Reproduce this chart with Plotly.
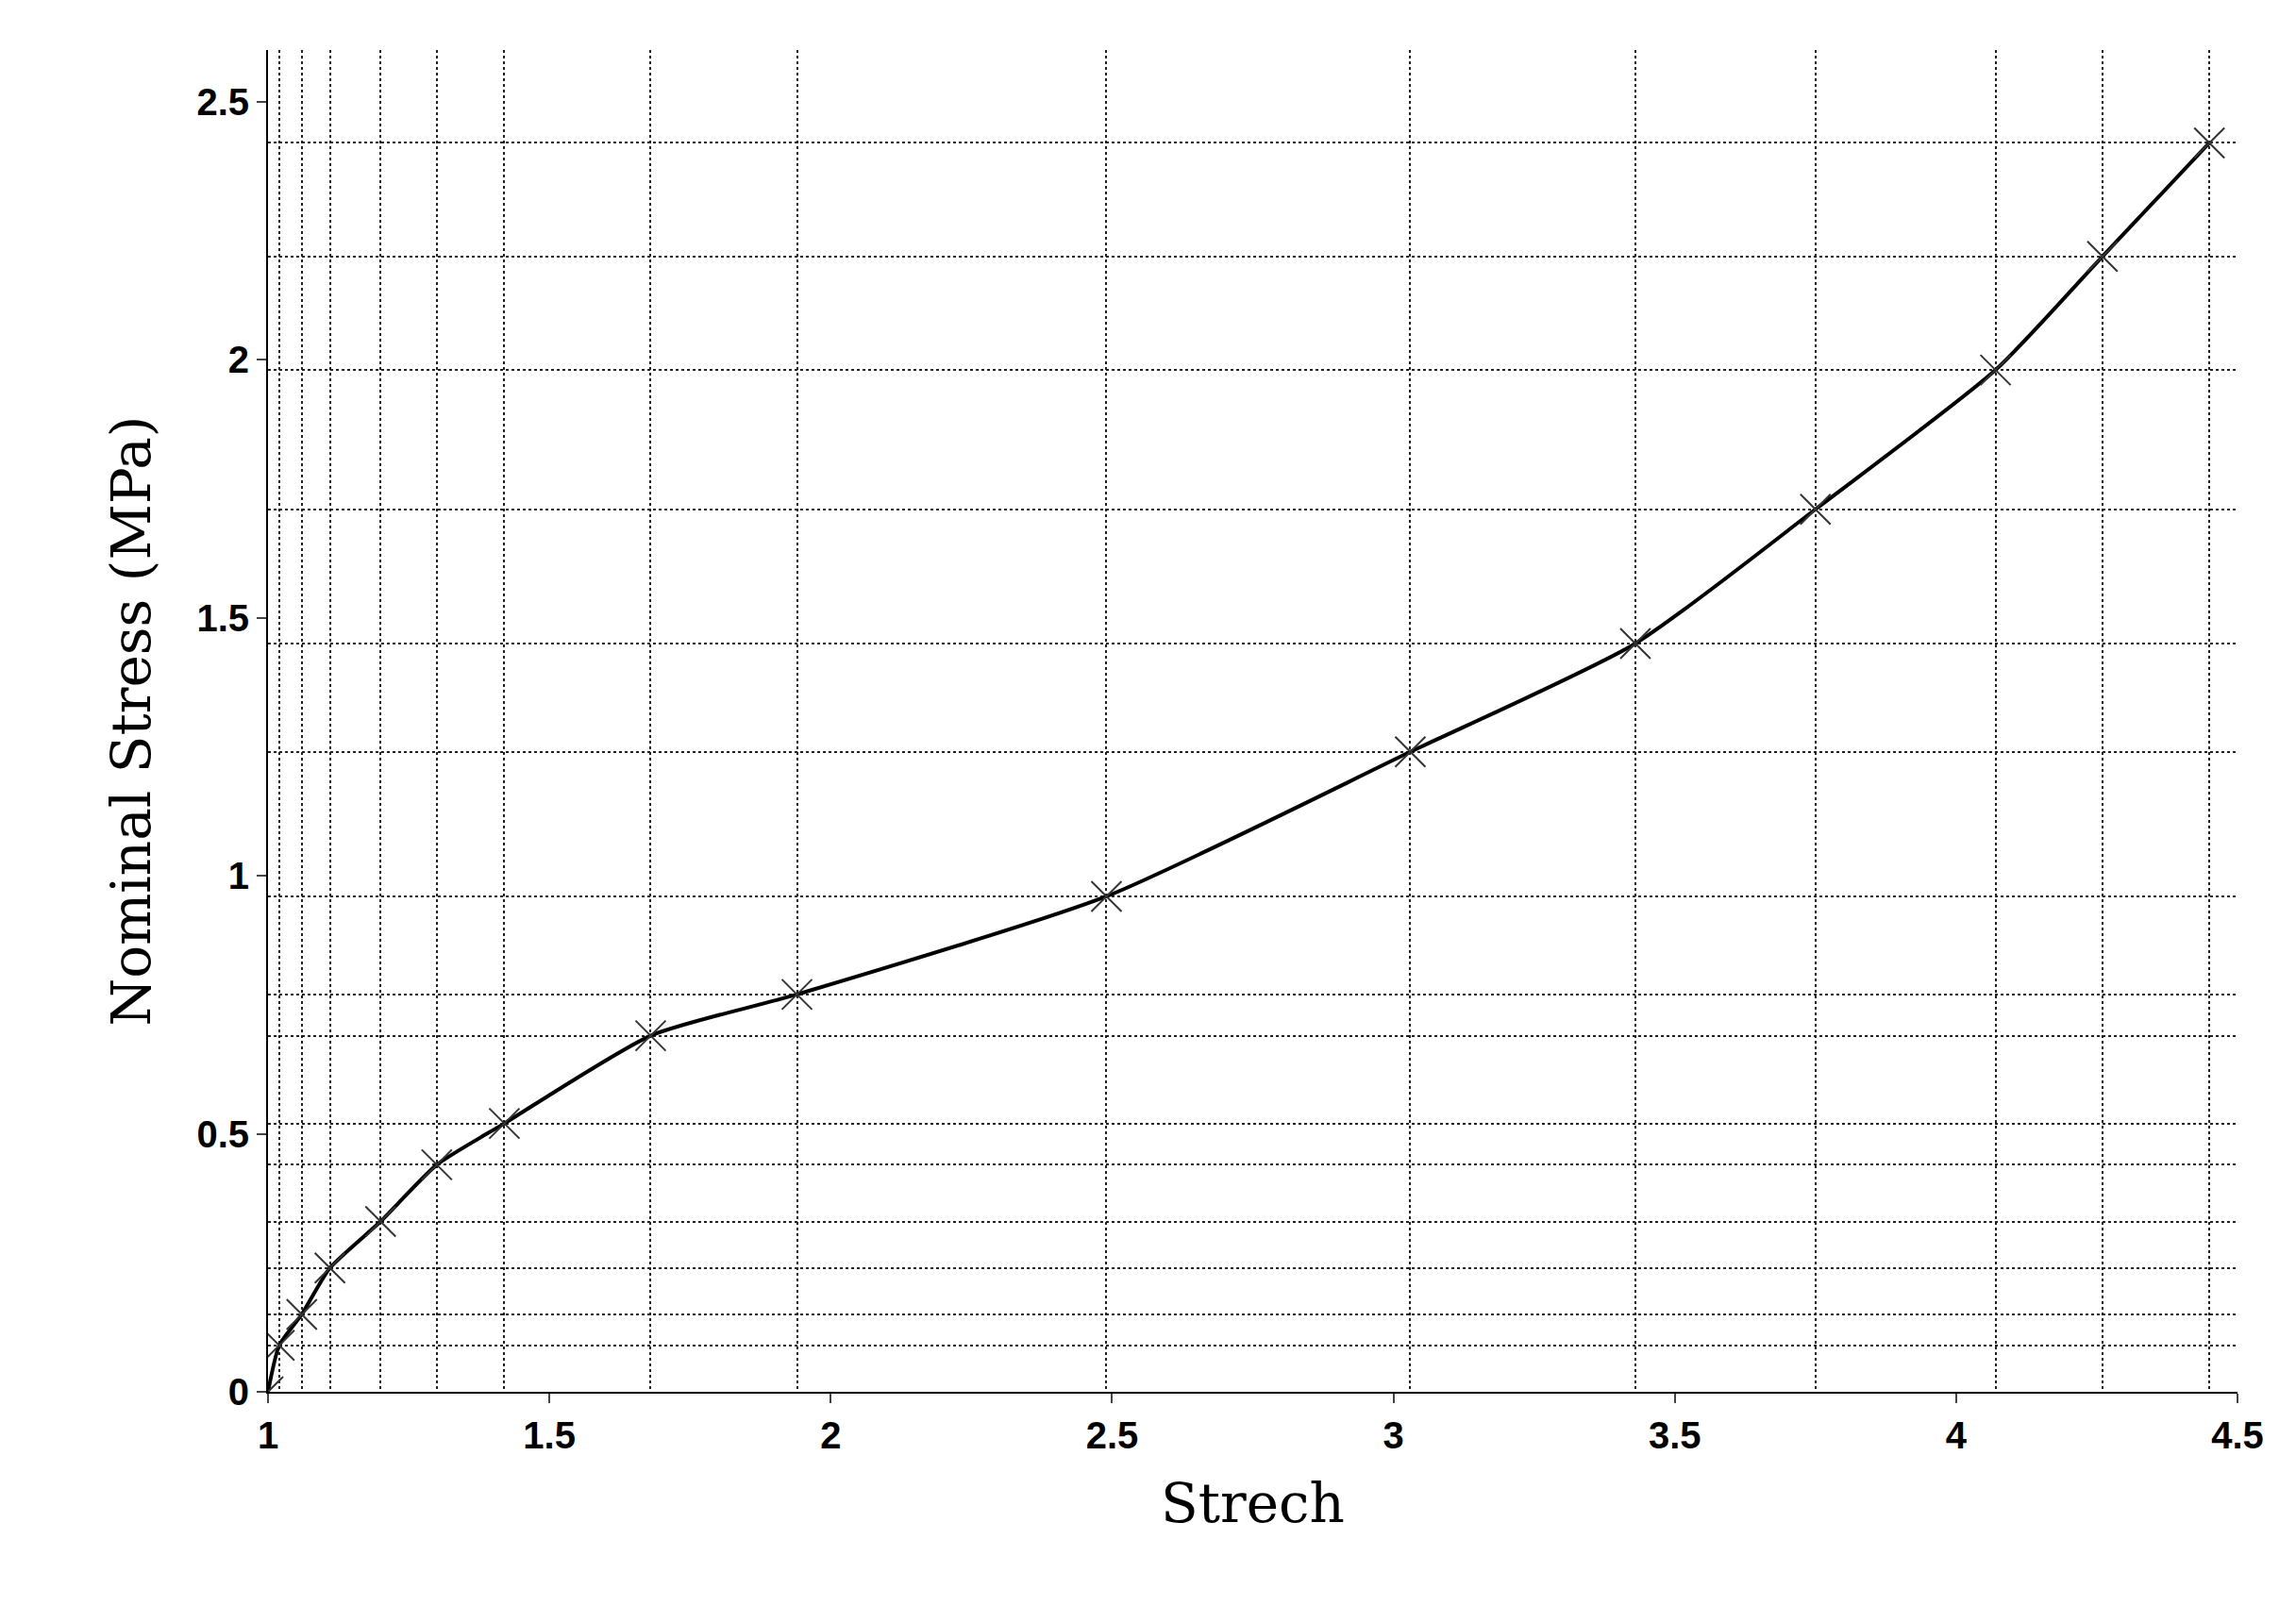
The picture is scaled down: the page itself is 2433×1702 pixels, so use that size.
import plotly.graph_objects as go

stretch = [1.0, 1.02, 1.06, 1.11, 1.2, 1.3, 1.42, 1.68, 1.94, 2.49, 3.03, 3.43, 3.75, 4.07, 4.26, 4.45]
stress = [0.0, 0.09, 0.15, 0.24, 0.33, 0.44, 0.52, 0.69, 0.77, 0.96, 1.24, 1.45, 1.71, 1.98, 2.2, 2.42]
x_ticks = [1, 1.5, 2, 2.5, 3, 3.5, 4, 4.5]
y_ticks = [0, 0.5, 1, 1.5, 2, 2.5]

fig = go.Figure()
fig.add_trace(go.Scatter(x=stretch, y=stress, mode='lines',
                         line=dict(color='black', width=4, shape='spline', smoothing=0.6),
                         showlegend=False))
fig.add_trace(go.Scatter(x=stretch, y=stress, mode='markers',
                         marker=dict(symbol='x-thin-open', size=32, color='#333',
                                     line=dict(color='#333', width=2)),
                         showlegend=False))

grid = dict(tickmode='array', showgrid=True, griddash='dot',
            gridcolor='#222', gridwidth=1.5, ticklen=0)
tickfont = dict(family='Liberation Sans', size=40, color='black', weight='bold')
titlefont = dict(family='DejaVu Serif', size=58, color='black')

fig.update_xaxes(range=[1, 4.5], tickvals=x_ticks, ticktext=[str(v) for v in x_ticks],
                 showgrid=False, showline=True, linecolor='black', linewidth=2,
                 ticks='outside', ticklen=10, tickwidth=2, tickfont=tickfont,
                 minor=dict(grid, tickvals=stretch), zeroline=False,
                 title=dict(text='Strech', font=titlefont, standoff=30))
fig.update_yaxes(range=[0, 2.6], tickvals=y_ticks, ticktext=[str(v) for v in y_ticks],
                 showgrid=False, showline=True, linecolor='black', linewidth=2,
                 ticks='outside', ticklen=10, tickwidth=2, tickfont=tickfont,
                 minor=dict(grid, tickvals=stress), zeroline=False,
                 title=dict(text='Nominal Stress (MPa)', font=titlefont, standoff=30))

fig.update_layout(width=2433, height=1702, plot_bgcolor='white', paper_bgcolor='white',
                  margin=dict(l=276, r=70, t=45, b=235))
fig.write_html("out.html")
